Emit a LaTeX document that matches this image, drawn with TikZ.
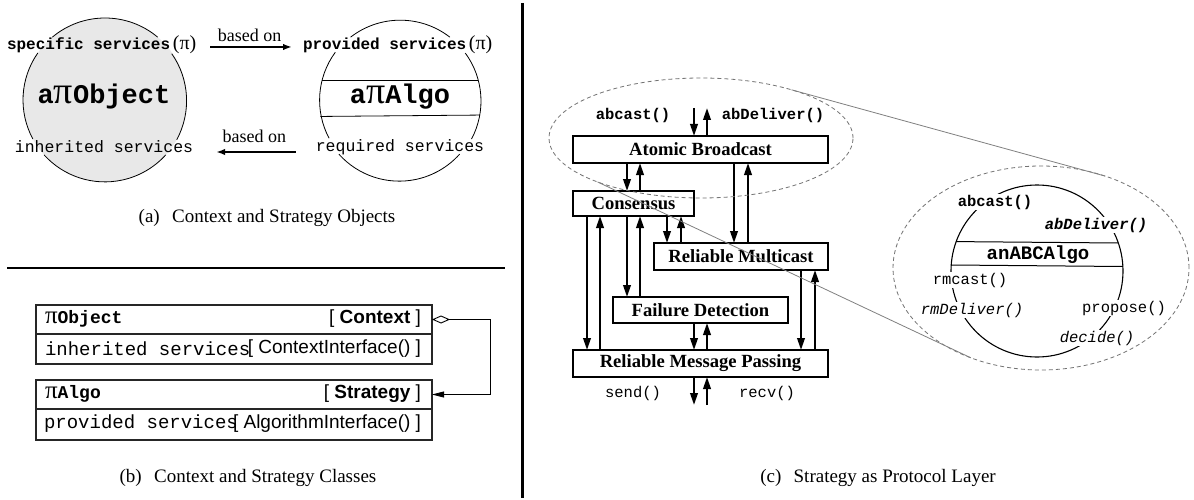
\documentclass[tikz,border=0pt]{standalone}
\usepackage{fontspec}
\setmainfont{Liberation Serif}
\setsansfont{Liberation Sans}
\setmonofont{Liberation Mono}
\usetikzlibrary{arrows.meta,shapes.geometric}
\newcommand\myfs[1]{\fontsize{#1pt}{#1pt}\selectfont}

\begin{document}
\begin{tikzpicture}[x=1pt,y=-1pt,
  ring/.style={circle, draw=none, inner sep=0pt, outer sep=0pt},
  rim/.style={line width=0.8pt},
  txt/.style={inner sep=0pt, outer sep=0pt},
  based/.style={line width=2pt, -{Latex[length=9pt,width=6.5pt]}},
  caption/.style={inner sep=0pt, font=\rmfamily\myfs{19}},
  cls/.style={draw=black!85, line width=1.2pt, inner sep=0pt, outer sep=0pt, minimum width=396pt},
  agg/.style={line width=0.9pt, {Diamond[open,length=18pt,width=8pt]}-{Triangle[length=12pt,width=6pt]}},
  layer/.style={draw, line width=1.1pt, inner sep=0pt, outer sep=0pt, font=\rmfamily\bfseries\myfs{18.6}},
  flow/.style={line width=2.2pt, -{Triangle[length=12pt,width=7.5pt]}},
  api/.style={inner sep=0pt, font=\ttfamily\myfs{15.5}},
  lens/.style={ellipse, draw=black!55, line width=0.8pt, dash pattern=on 4pt off 3pt, inner sep=0pt, outer sep=0pt},
  lensline/.style={draw=black!50, line width=0.8pt},
  hook/.style={fill=white, inner sep=1pt, font=\ttfamily\myfs{15.5}}]

\fill[white] (0,0) rectangle (1194,500);
\useasboundingbox (0,0) rectangle (1194,500);

% ---------- (a) context and strategy objects ----------
\node[ring, fill=black!9, minimum size=164pt] (obj) at (105,100) {};
\node[ring, minimum size=162pt] (algo) at (400,101) {};
% outlines, broken where the service labels cross them
\draw[rim] (obj.50)    arc[start angle=-50,    end angle=-130,   radius=82];
\draw[rim] (obj.145)   arc[start angle=-145,   end angle=-208.4, radius=82];
\draw[rim] (obj.222.1) arc[start angle=-222.1, end angle=-317.9, radius=82];
\draw[rim] (obj.331.6) arc[start angle=-331.6, end angle=-395,   radius=82];
\draw[rim] (algo.52.2)  arc[start angle=-52.2,  end angle=-127.8, radius=81];
\draw[rim] (algo.143.7) arc[start angle=-143.7, end angle=-208,   radius=81];
\draw[rim] (algo.221.8) arc[start angle=-221.8, end angle=-318.2, radius=81];
\draw[rim] (algo.332)   arc[start angle=-332,   end angle=-396.3, radius=81];
\draw[rim] (algo.165) -- (algo.15);
\draw[rim] (algo.-169.3) -- (algo.-10.7);

\node[txt, anchor=west] (spec) at (7,45)
  {\ttfamily\bfseries\myfs{16}specific services\,{\rmfamily\mdseries\myfs{20}(π)}};
\node[txt, anchor=west] (prov) at (303,45)
  {\ttfamily\bfseries\myfs{16}provided services\,{\rmfamily\mdseries\myfs{20}(π)}};
\node[txt] (objname) at (104,97)
  {\ttfamily\bfseries\myfs{27}a{\rmfamily\mdseries\myfs{38}π}Object};
\node[txt] (algoname) at (400,97)
  {\ttfamily\bfseries\myfs{27}a{\rmfamily\mdseries\myfs{38}π}Algo};
\node[txt] (inh) at (104,147) {\ttfamily\myfs{16.5}inherited services};
\node[txt] (req) at (400,147) {\ttfamily\myfs{16.5}required services};

\draw[based, shorten <=14pt, shorten >=11pt]
  ([yshift=-2pt]spec.east) -- ([yshift=-2pt]spec.east -| prov.west)
  node[midway, above=5pt, txt, font=\rmfamily\myfs{18}] (bo1) {based on};
\draw[based, shorten <=20pt, shorten >=23pt]
  ([yshift=-5pt]req.west) -- ([yshift=-5pt]req.west -| inh.east)
  node[midway, above=9pt, txt, font=\rmfamily\myfs{18}] (bo2) {based on};

\node[caption] (capa) at (267,218) {(a)\hspace{0.65em}Context and Strategy Objects};

% separators
\draw[line width=2.6pt] (7,268) -- (505,268);
\draw[line width=3pt] (522,3) -- (522,498);

% ---------- (b) context and strategy classes ----------
\node[cls, minimum height=29pt] (objhead) at (234,319.5) {};
\node[cls, minimum height=30pt] (objbody) at (234,349) {};
\node[cls, minimum height=29pt] (algohead) at (234,394.5) {};
\node[cls, minimum height=31pt] (algobody) at (234,424.5) {};

\node[txt, anchor=west] (objcls) at (45,319)
  {{\rmfamily\myfs{25}π}\ttfamily\bfseries\myfs{18}Object};
\node[txt, anchor=east] (ctx) at (421,319) {\sffamily\myfs{19}[ \textbf{Context} ]};
\node[txt, anchor=west] (objsrv) at (45,349) {\ttfamily\myfs{19}inherited services};
\node[txt, anchor=east] (ctxif) at (421,349) {\sffamily\myfs{19}[ ContextInterface() ]};
\node[txt, anchor=west] (algocls) at (45,394)
  {{\rmfamily\myfs{25}π}\ttfamily\bfseries\myfs{18}Algo};
\node[txt, anchor=east] (strat) at (421,394) {\sffamily\myfs{19}[ \textbf{Strategy} ]};
\node[txt, anchor=west] (algosrv) at (44,424) {\ttfamily\myfs{19}provided services};
\node[txt, anchor=east] (algoif) at (421,424) {\sffamily\myfs{19}[ AlgorithmInterface() ]};

\draw[agg] (objhead.east) -- ++(58,0) |- (algohead.east);

\node[caption] (capb) at (248,478) {(b)\hspace{0.65em}Context and Strategy Classes};

% ---------- (c) strategy as protocol layer ----------
\node[layer, minimum width=255pt, minimum height=27pt] (ab)   at (700.5,149.5) {Atomic Broadcast};
\node[layer, minimum width=121pt, minimum height=25pt] (cons) at (633.5,203.5) {Consensus};
\node[layer, minimum width=174pt, minimum height=27pt] (rm)   at (741,256.5)   {Reliable Multicast};
\node[layer, minimum width=175pt, minimum height=26pt] (fd)   at (700.5,310)   {Failure Detection};
\node[layer, minimum width=255pt, minimum height=27pt] (rmp)  at (700.5,363.5) {Reliable Message Passing};

% vertical lanes of the layer arrows
\coordinate (la) at (694,0);  \coordinate (lb) at (707,0);
\coordinate (lc) at (627,0);  \coordinate (ld) at (640,0);
\coordinate (le) at (734,0);  \coordinate (lf) at (748,0);
\coordinate (lg) at (667,0);  \coordinate (lh) at (681,0);
\coordinate (li) at (587,0);  \coordinate (lj) at (600,0);
\coordinate (lk) at (801,0);  \coordinate (ll) at (815,0);
\coordinate (apitop) at (0,108);
\coordinate (apibot) at (0,405);

\draw[flow] (la |- apitop) -- (la |- ab.north);
\draw[flow] (lb |- ab.north) -- (lb |- apitop);
\draw[flow] (lc |- ab.south) -- (lc |- cons.north);
\draw[flow] (ld |- cons.north) -- (ld |- ab.south);
\draw[flow] (le |- ab.south) -- (le |- rm.north);
\draw[flow] (lf |- rm.north) -- (lf |- ab.south);
\draw[flow] (lg |- cons.south) -- (lg |- rm.north);
\draw[flow] (lh |- rm.north) -- (lh |- cons.south);
\draw[flow] (li |- cons.south) -- (li |- rmp.north);
\draw[flow] (lj |- rmp.north) -- (lj |- cons.south);
\draw[flow] (lc |- cons.south) -- (lc |- fd.north);
\draw[flow] (ld |- fd.north) -- (ld |- cons.south);
\draw[flow] (la |- fd.south) -- (la |- rmp.north);
\draw[flow] (lb |- rmp.north) -- (lb |- fd.south);
\draw[flow] (lk |- rm.south) -- (lk |- rmp.north);
\draw[flow] (ll |- rmp.north) -- (ll |- rm.south);
\draw[flow] (la |- rmp.south) -- (la |- apibot);
\draw[flow] (lb |- apibot) -- (lb |- rmp.south);

\node[api, font=\ttfamily\bfseries\myfs{15.5}] (abcast) at (633,115) {abcast()};
\node[api, font=\ttfamily\bfseries\myfs{15.5}] (abdeliver) at (773,115) {abDeliver()};
\node[api] (send) at (633,393) {send()};
\node[api] (recv) at (767,393) {recv()};

% magnified view of the atomic broadcast layer
\node[lens, minimum width=304pt, minimum height=120pt] (zsrc) at (701,138) {};
\node[lens, minimum width=296pt, minimum height=204pt] (zdst) at (1041,268) {};
\draw[lensline] (zsrc.28) -- (zdst.55);
\draw[lensline] (zsrc.203.5) -- (zdst.232.8);

\node[ring, draw, line width=1.1pt, minimum size=172pt] (abc) at (1037,271) {};
\draw[line width=1pt] (abc.160.3) -- (abc.19.7);
\draw[line width=1pt] (abc.176.7) -- (abc.3.3);
\node[txt, font=\ttfamily\bfseries\myfs{19}] (abcname) at (1038,255) {anABCAlgo};

\node[hook, font=\ttfamily\bfseries\myfs{15.5}] (h1) at (995,202) {abcast()};
\node[hook, font=\ttfamily\bfseries\itshape\myfs{15.5}] (h2) at (1096,225) {abDeliver()};
\node[hook] (h3) at (970,280) {rmcast()};
\node[hook, font=\ttfamily\itshape\myfs{15.5}] (h4) at (972,310) {rmDeliver()};
\node[hook] (h5) at (1124,308) {propose()};
\node[hook, font=\ttfamily\itshape\myfs{15.5}] (h6) at (1097,338) {decide()};

\node[caption] (capc) at (878,478) {(c)\hspace{0.65em}Strategy as Protocol Layer};

\end{tikzpicture}
\end{document}
